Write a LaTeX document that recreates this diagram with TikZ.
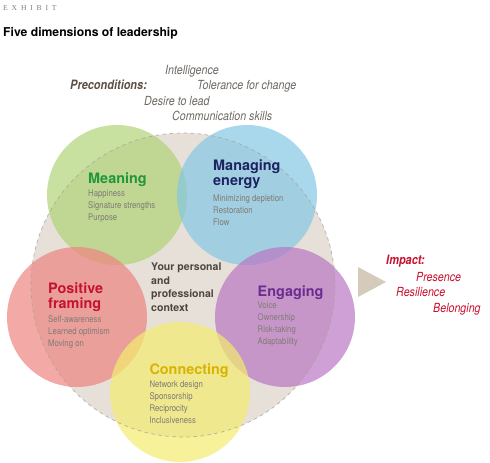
\documentclass[tikz,border=0pt]{standalone}
\usepackage{fontspec}
\setmainfont{TeX Gyre Heros}
\newfontfamily\condfont{TeX Gyre Heros}[FakeStretch=0.85]
\newfontfamily\exhibitfont{Liberation Serif}[LetterSpace=50]
\usetikzlibrary{calc}
\definecolor{ctxfill}{HTML}{E6E0D8}
\definecolor{ctxline}{HTML}{A8A29A}
\definecolor{cmeaning}{HTML}{B0D377}
\definecolor{cenergy}{HTML}{84C7E4}
\definecolor{cframing}{HTML}{EE8480}
\definecolor{cengaging}{HTML}{BA77C4}
\definecolor{cconnect}{HTML}{F3EC6F}
\definecolor{tmeaning}{HTML}{22963A}
\definecolor{tenergy}{HTML}{1C2360}
\definecolor{tframing}{HTML}{C4122F}
\definecolor{tengaging}{HTML}{6B2C91}
\definecolor{tconnect}{HTML}{D8B400}
\definecolor{titem}{HTML}{807B75}
\definecolor{tcontext}{HTML}{4D4640}
\definecolor{tpre}{HTML}{5C4F45}
\definecolor{tpreitem}{HTML}{6E6862}
\definecolor{timpact}{HTML}{C8102E}
\definecolor{arrowfill}{HTML}{D5CBBA}

\begin{document}
\begin{tikzpicture}[x=0.03cm, y=-0.03cm,
  bubble/.style={fill opacity=0.7},
  heading/.style={anchor=base west, inner sep=0pt, align=left,
    font=\fontsize{12.3}{12.8}\selectfont\bfseries},
  item/.style={anchor=base west, inner sep=0pt, align=left, text=titem,
    font=\condfont\fontsize{7.8}{10.24}\selectfont},
  precond/.style={anchor=base west, inner sep=0pt, text=tpreitem,
    font=\condfont\fontsize{10.7}{12}\selectfont\itshape},
  impact/.style={anchor=base west, inner sep=0pt, text=timpact,
    font=\condfont\fontsize{10.7}{12}\selectfont\itshape}]
  \useasboundingbox (0,0) rectangle (490,463);

  \coordinate (C) at (183,285);
  \coordinate (M) at (117,195);
  \coordinate (E) at (247,195);
  \coordinate (P) at (77,317);
  \coordinate (G) at (285,317);
  \coordinate (K) at (180,392);

  % personal and professional context
  \fill[ctxfill] (C) circle (152);

  % the five dimensions
  \fill[cmeaning, bubble] (M) circle (70);
  \fill[cenergy, bubble] (E) circle (70);
  \fill[cframing, bubble] (P) circle (70);
  \fill[cengaging, bubble] (G) circle (70);
  \fill[cconnect, bubble] (K) circle (70);

  \draw[ctxline, dashed, line width=0.6pt, draw opacity=0.8] (C) circle (152);

  % header
  \node[anchor=base west, inner sep=0pt, text=gray,
    font=\exhibitfont\fontsize{6.5}{7}\selectfont] (exhibit) at (3,10) {EXHIBIT};
  \node[anchor=base west, inner sep=0pt,
    font=\fontsize{10.4}{12}\selectfont\bfseries] (title) at (3,36)
    {Five dimensions of leadership};

  % preconditions
  \node[anchor=base west, inner sep=0pt, text=tpre,
    font=\condfont\fontsize{11}{12}\selectfont\bfseries\itshape] (pre) at (70,89)
    {Preconditions:};
  \node[precond] (intel) at (165,74) {Intelligence};
  \node[precond] (toler) at (197,89) {Tolerance for change};
  \node[precond] (desire) at (144,105) {Desire to lead};
  \node[precond] (comm) at (172,120) {Communication skills};

  % circle labels (base = last line)
  \node[heading, text=tmeaning] (meaning) at (88,183) {Meaning};
  \node[item] (meaningitems) at (88,220)
    {Happiness\\Signature strengths\\Purpose};

  \node[heading, text=tenergy] (energy) at (213,185) {Managing\\energy};
  \node[item] (energyitems) at (213,225)
    {Minimizing depletion\\Restoration\\Flow};

  \node[heading, text=tframing] (framing) at (48,308.3) {Positive\\framing};
  \node[item] (framingitems) at (48,346.7)
    {Self-awareness\\Learned optimism\\Moving on};

  \node[anchor=base west, inner sep=0pt, align=left, text=tcontext,
    font=\fontsize{9}{11.4}\selectfont\bfseries] (context) at (151,311)
    {Your personal\\and\\professional\\context};

  \node[heading, text=tengaging] (engaging) at (257.5,296.7) {Engaging};
  \node[item] (engagingitems) at (257.5,344.7)
    {Voice\\Ownership\\Risk-taking\\Adaptability};

  \node[heading, text=tconnect] (connect) at (149.3,374) {Connecting};
  \node[item] (connectitems) at (149.3,423.3)
    {Network design\\Sponsorship\\Reciprocity\\Inclusiveness};

  % impact
  \fill[arrowfill] (358,267) -- (386,282) -- (358,297) -- cycle;
  \node[anchor=base west, inner sep=0pt, text=timpact,
    font=\condfont\fontsize{11}{12}\selectfont\bfseries\itshape] (impact) at (386,264.3)
    {Impact:};
  \node[impact] (presence) at (416,281) {Presence};
  \node[impact] (resil) at (396,296.7) {Resilience};
  \node[impact] (belong) at (433,312.7) {Belonging};
\end{tikzpicture}
\end{document}
